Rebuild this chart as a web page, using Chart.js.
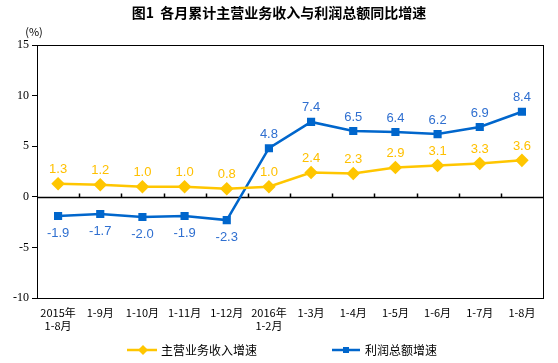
<!DOCTYPE html>
<html>
<head>
<meta charset="utf-8">
<script src="https://cdn.jsdelivr.net/npm/chart.js@4/dist/chart.umd.min.js"></script>
<style>
  html, body { margin: 0; padding: 0; background: #fff; }
  #wrap { width: 558px; height: 363px; }
</style>
</head>
<body>
<div id="wrap"><canvas id="growthChart" width="558" height="363"></canvas></div>
<script>
const months = [['2015年', '1-8月'], '1-9月', '1-10月', '1-11月', '1-12月', ['2016年', '1-2月'],
                '1-3月', '1-4月', '1-5月', '1-6月', '1-7月', '1-8月'];
const revenueGrowth = [1.3, 1.2, 1.0, 1.0, 0.8, 1.0, 2.4, 2.3, 2.9, 3.1, 3.3, 3.6];
const profitGrowth = [-1.9, -1.7, -2.0, -1.9, -2.3, 4.8, 7.4, 6.5, 6.4, 6.2, 6.9, 8.4];
const yTicks = [-10, -5, 0, 5, 10, 15];

const yellow = '#FFC600';
const blue = '#0066CC';
const cjk = '"Noto Sans CJK SC", "Noto Sans", sans-serif';

// frame, zero line with category ticks, value labels, title and legend
const decorations = {
    id: 'decorations',
    beforeDatasetsDraw(chart) {
        const { ctx, chartArea: a, scales: { x, y } } = chart;
        ctx.save();
        ctx.strokeStyle = '#000';
        ctx.lineWidth = 1;
        ctx.strokeRect(a.left + 0.5, a.top + 0.5, a.right - a.left, a.bottom - a.top);
        const y0 = Math.round(y.getPixelForValue(0)) + 0.5;
        ctx.lineWidth = 1.5;
        ctx.beginPath();
        ctx.moveTo(a.left, y0);
        ctx.lineTo(a.right, y0);
        for (let i = 0; i < months.length - 1; i++) {
            const px = Math.round((x.getPixelForValue(i) + x.getPixelForValue(i + 1)) / 2) + 0.5;
            ctx.moveTo(px, y0);
            ctx.lineTo(px, y0 - 4);
        }
        ctx.stroke();
        ctx.restore();
    },
    afterDatasetsDraw(chart) {
        const { ctx } = chart;
        ctx.save();
        ctx.font = '13px "Liberation Sans", Arial, sans-serif';
        ctx.textAlign = 'center';
        ctx.textBaseline = 'middle';
        chart.data.datasets.forEach((ds, di) => {
            const meta = chart.getDatasetMeta(di);
            ctx.fillStyle = ds.labelColor;
            meta.data.forEach((pt, i) => {
                const v = ds.data[i];
                const dy = v < 0 ? 17 : -14;
                ctx.fillText(v.toFixed(1), pt.x, pt.y + dy);
            });
        });
        ctx.restore();
    },
    afterDraw(chart) {
        const { ctx } = chart;
        ctx.save();
        ctx.fillStyle = '#000';
        ctx.textAlign = 'center';
        ctx.textBaseline = 'middle';
        ctx.font = 'bold 14px ' + cjk;
        ctx.fillText('图1  各月累计主营业务收入与利润总额同比增速', 279, 13);
        ctx.font = '11px ' + cjk;
        ctx.fillText('(%)', 34, 32);

        // legend
        ctx.textAlign = 'left';
        ctx.font = '12px ' + cjk;
        const ly = 350;
        ctx.lineWidth = 2.5;
        ctx.strokeStyle = yellow;
        ctx.beginPath(); ctx.moveTo(127, ly); ctx.lineTo(157, ly); ctx.stroke();
        ctx.fillStyle = yellow;
        ctx.beginPath();
        ctx.moveTo(143, ly - 5); ctx.lineTo(148, ly); ctx.lineTo(143, ly + 5); ctx.lineTo(138, ly);
        ctx.closePath(); ctx.fill();
        ctx.fillStyle = '#000';
        ctx.fillText('主营业务收入增速', 161, ly);

        ctx.strokeStyle = blue;
        ctx.beginPath(); ctx.moveTo(332, ly); ctx.lineTo(360, ly); ctx.stroke();
        ctx.fillStyle = blue;
        ctx.fillRect(343, ly - 3, 6, 6);
        ctx.fillStyle = '#000';
        ctx.fillText('利润总额增速', 365, ly);
        ctx.restore();
    }
};

new Chart(document.getElementById('growthChart'), {
    type: 'line',
    data: {
        labels: months,
        datasets: [{
            label: '主营业务收入增速',
            data: revenueGrowth,
            borderColor: yellow,
            backgroundColor: yellow,
            labelColor: '#FFC000',
            borderWidth: 2.5,
            pointStyle: 'rectRot',
            pointRadius: 5,
            pointHoverRadius: 5,
            tension: 0
        }, {
            label: '利润总额增速',
            data: profitGrowth,
            borderColor: blue,
            backgroundColor: blue,
            labelColor: '#2F6FD0',
            borderWidth: 2.5,
            pointStyle: 'rect',
            pointRadius: 4,
            pointHoverRadius: 4,
            tension: 0
        }]
    },
    options: {
        responsive: false,
        animation: false,
        layout: { padding: { top: 45, right: 15, left: 0, bottom: 0 } },
        plugins: {
            legend: { display: false },
            tooltip: { enabled: false }
        },
        scales: {
            x: {
                offset: true,
                grid: { display: false, drawTicks: false },
                border: { display: false },
                ticks: {
                    color: '#000',
                    font: { family: cjk, size: 11 },
                    padding: 8,
                    maxRotation: 0,
                    autoSkip: false
                },
                afterFit(scale) { scale.height = 65; }
            },
            y: {
                min: -10,
                max: 15,
                afterBuildTicks(scale) { scale.ticks = yTicks.map(v => ({ value: v })); },
                grid: { drawOnChartArea: false, drawTicks: true, tickLength: 5, color: '#000' },
                border: { display: true, color: '#000' },
                ticks: {
                    color: '#000',
                    font: { family: '"Liberation Serif", "Times New Roman", serif', size: 12 },
                    padding: 3
                },
                afterFit(scale) { scale.width = 37; }
            }
        }
    },
    plugins: [decorations]
});
</script>
</body>
</html>
